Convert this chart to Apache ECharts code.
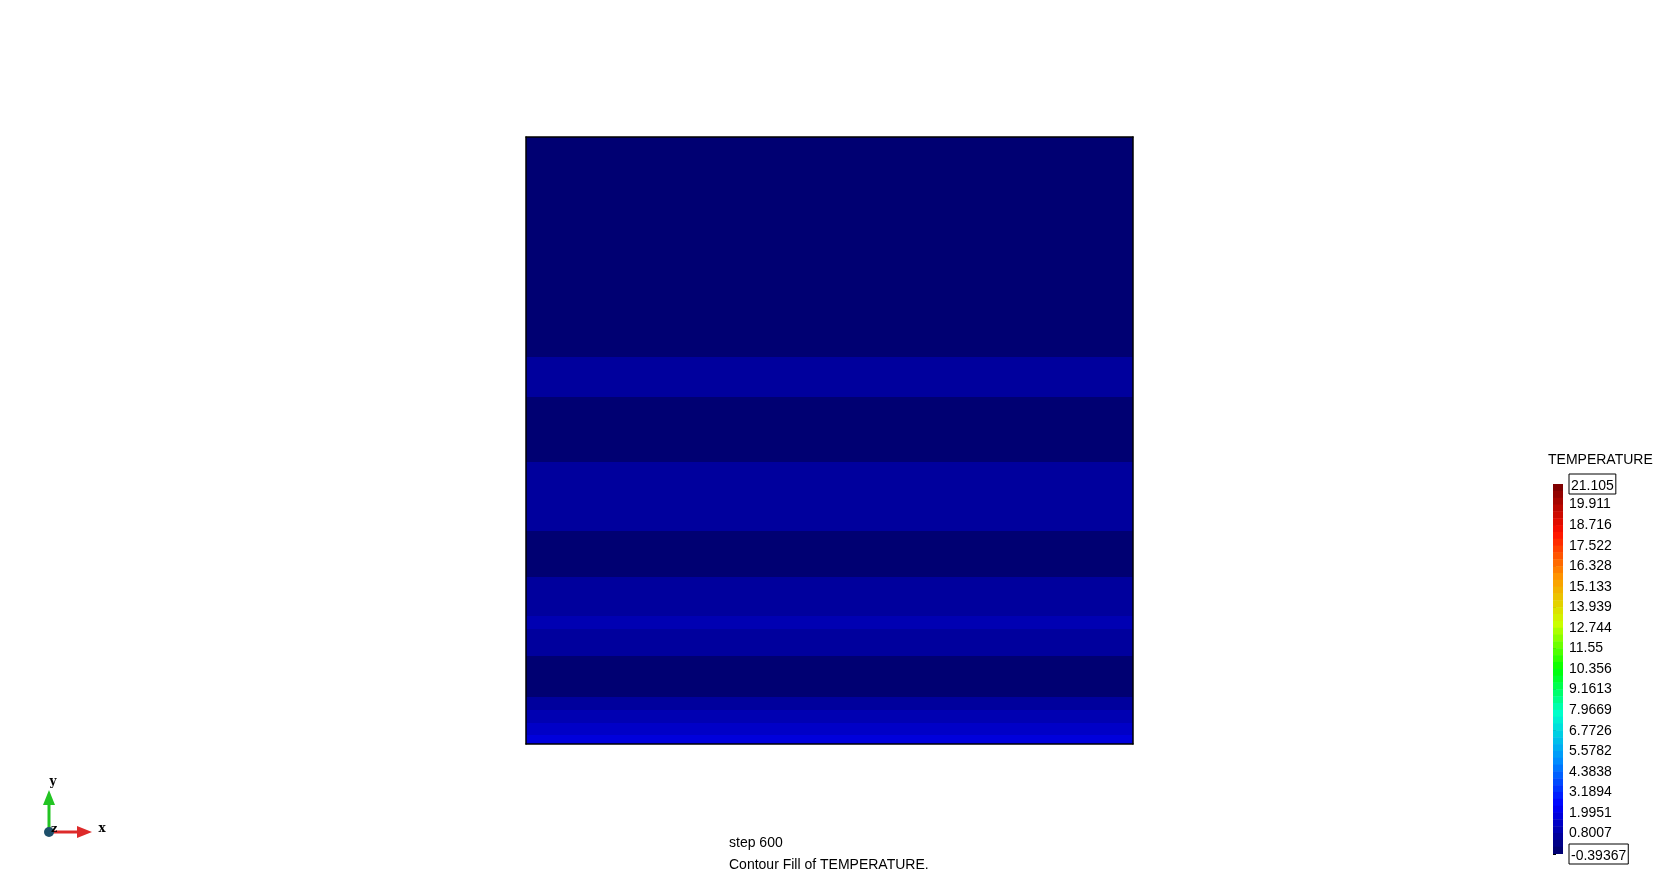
<!DOCTYPE html>
<html>
<head>
<meta charset="utf-8">
<script src="https://cdn.jsdelivr.net/npm/echarts@6/dist/echarts.min.js"></script>
<style>
html,body{margin:0;padding:0;background:#fff;}
#chart{width:1660px;height:882px;}
</style>
</head>
<body>
<div id="chart"></div>
<script>
// ---- data: horizontal temperature layers of the square (height fraction from bottom) ----
const bandBottom = [0, 0.015, 0.035, 0.056, 0.077, 0.145, 0.189, 0.211, 0.275, 0.351, 0.465, 0.572, 0.638];
const bandTop    = [0.015, 0.035, 0.056, 0.077, 0.145, 0.189, 0.211, 0.275, 0.351, 0.465, 0.572, 0.638, 1];
const bandTemperature = [1.8, 1.4, 1.0, 0.6, -0.2, 0.6, 1.0, 0.6, -0.2, 0.6, -0.2, 0.6, -0.2];

// ---- colour scale ----
const legendTickLabels = ['-0.39367','0.8007','1.9951','3.1894','4.3838','5.5782','6.7726','7.9669','9.1613',
  '10.356','11.55','12.744','13.939','15.133','16.328','17.522','18.716','19.911','21.105'];
const tempMin = -0.39367;
const tempMax = 21.105;
const levelCount = 54;
const paletteColors = ['#000072','#0000ff','#0091ff','#00ffce','#00ff00','#ceff00','#ff9800','#ff1000','#800000'];

const FONT = "'Liberation Sans', Arial, sans-serif";
const FS = 14;

const chart = echarts.init(document.getElementById('chart'), null, {renderer: 'canvas'});

function frameAxis(extra) {
  return Object.assign({
    type: 'value', min: 0, max: 1, gridIndex: 0, z: 10,
    axisLine: {show: true, onZero: false, lineStyle: {color: '#000', width: 1.5}},
    axisTick: {show: false}, axisLabel: {show: false}, splitLine: {show: false}
  }, extra);
}

const barHeight = 370;
const option = {
  backgroundColor: '#ffffff',
  animation: false,
  grid: [
    {left: 526, top: 137, width: 607, height: 607, show: false},
    {left: 1553, top: 484, width: 10, height: barHeight, show: false}
  ],
  xAxis: [
    frameAxis({position: 'bottom'}),
    frameAxis({position: 'top'}),
    {type: 'value', gridIndex: 1, min: 0, max: 1, show: false}
  ],
  yAxis: [
    frameAxis({position: 'left'}),
    frameAxis({position: 'right'}),
    {
      type: 'value', gridIndex: 1, min: 0, max: legendTickLabels.length - 1, interval: 1,
      position: 'right',
      axisLine: {show: false},
      axisTick: {show: true, length: 3, lineStyle: {color: '#000', width: 1}},
      splitLine: {show: false},
      axisLabel: {
        margin: 6, color: '#000', fontSize: FS, fontFamily: FONT,
        formatter: function (v) {
          const i = Math.round(v);
          const s = legendTickLabels[i];
          if (i === 0 || i === legendTickLabels.length - 1) return '{box|' + s + '}';
          return s;
        },
        rich: {
          box: {
            color: '#000', fontSize: FS, fontFamily: FONT,
            borderColor: '#000', borderWidth: 1, padding: [5, 2, 1, 2]
          }
        }
      }
    }
  ],
  visualMap: {
    type: 'piecewise',
    min: tempMin, max: tempMax, splitNumber: levelCount,
    dimension: 2, seriesIndex: 0,
    orient: 'vertical',
    inRange: {color: paletteColors},
    itemSymbol: 'rect', itemWidth: 10,
    itemHeight: (barHeight + (levelCount - 1) * 0.45) / levelCount, itemGap: -0.45,
    showLabel: false, selectedMode: false, hoverLink: false,
    left: 1553, top: 484, padding: 0
  },
  series: [{
    type: 'custom',
    xAxisIndex: 0, yAxisIndex: 0,
    dimensions: ['bottom', 'top', 'temperature'],
    encode: {y: [0, 1]},
    data: bandBottom.map((b, i) => [b, bandTop[i], bandTemperature[i]]),
    renderItem: function (params, api) {
      const p0 = api.coord([0, api.value(1)]);
      const p1 = api.coord([1, api.value(0)]);
      const x0 = Math.round(p0[0]), y0 = Math.round(p0[1]);
      const x1 = Math.round(p1[0]), y1 = Math.round(p1[1]);
      return {
        type: 'rect',
        shape: {x: x0, y: y0, width: x1 - x0, height: y1 - y0},
        style: {fill: api.visual('color')}
      };
    }
  }],
  graphic: [
    {type: 'text', left: 1548, top: 453, style: {text: 'TEMPERATURE', font: FS + 'px ' + FONT, fill: '#000'}},
    {type: 'text', left: 729, top: 836, style: {text: 'step 600', font: FS + 'px ' + FONT, fill: '#000'}},
    {type: 'text', left: 729, top: 858, style: {text: 'Contour Fill of TEMPERATURE.', font: FS + 'px ' + FONT, fill: '#000'}},
    // axis triad
    {type: 'line', shape: {x1: 49, y1: 831, x2: 49, y2: 803}, style: {stroke: '#22c422', lineWidth: 3}},
    {type: 'polygon', shape: {points: [[43, 805], [55, 805], [49, 790]]}, style: {fill: '#22c422'}},
    {type: 'line', shape: {x1: 49, y1: 832, x2: 79, y2: 832}, style: {stroke: '#dd2a2a', lineWidth: 3}},
    {type: 'polygon', shape: {points: [[77, 826], [77, 838], [92, 832]]}, style: {fill: '#dd2a2a'}},
    {type: 'circle', shape: {cx: 49, cy: 832, r: 5}, style: {fill: '#1d4f6a'}},
    {type: 'text', x: 53, y: 782, style: {text: 'y', font: 'bold 12px "DejaVu Serif", serif', fill: '#000', align: 'center', verticalAlign: 'middle'}},
    {type: 'text', x: 102, y: 829, style: {text: 'x', font: 'bold 12px "DejaVu Serif", serif', fill: '#000', align: 'center', verticalAlign: 'middle'}},
    {type: 'text', x: 54, y: 829, style: {text: 'z', font: 'bold 11px "DejaVu Serif", serif', fill: '#000', align: 'center', verticalAlign: 'middle'}}
  ]
};
chart.setOption(option);
</script>
</body>
</html>
